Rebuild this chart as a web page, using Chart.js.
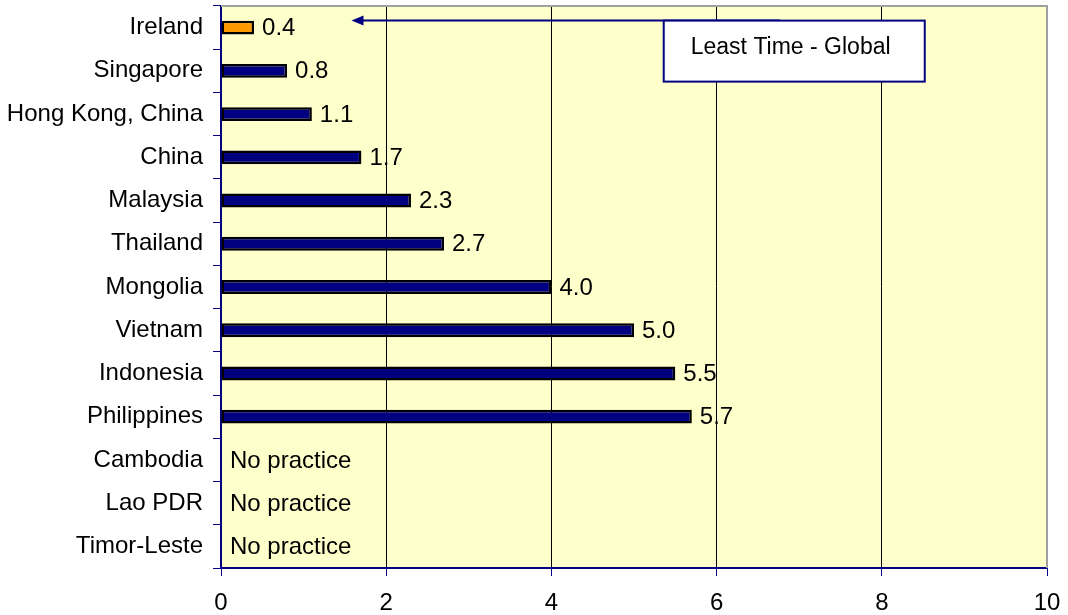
<!DOCTYPE html>
<html>
<head>
<meta charset="utf-8">
<script src="https://cdn.jsdelivr.net/npm/chart.js@4/dist/chart.umd.min.js"></script>
<style>
  html, body { margin: 0; padding: 0; background: #ffffff; }
  #wrap { width: 1068px; height: 615px; }
</style>
</head>
<body>
<div id="wrap"><canvas id="chart"></canvas></div>
<script>
// data
const countries = ["Ireland", "Singapore", "Hong Kong, China", "China", "Malaysia", "Thailand",
  "Mongolia", "Vietnam", "Indonesia", "Philippines", "Cambodia", "Lao PDR", "Timor-Leste"];
const years = [0.4, 0.8, 1.1, 1.7, 2.3, 2.7, 4.0, 5.0, 5.5, 5.7, null, null, null];
const xTicks = [0, 2, 4, 6, 8, 10];
const noPracticeText = "No practice";
const calloutText = "Least Time - Global";
// arrow in data units (from the callout toward Ireland)
const arrowFrom = 6.77;
const arrowTo = 1.58;

const FONT = "'Liberation Sans', Arial, Helvetica, sans-serif";
const NAVY = "#000080";

// labels, plot frame, arrow and callout box
const extras = {
  id: "extras",
  beforeDatasetsDraw(chart) {
    const { ctx, chartArea: a } = chart;
    ctx.save();
    ctx.strokeStyle = "#a0a0a0";
    ctx.lineWidth = 2;
    ctx.beginPath();
    ctx.moveTo(a.left, a.top);
    ctx.lineTo(a.right, a.top);
    ctx.lineTo(a.right, a.bottom);
    ctx.stroke();
    ctx.restore();
  },
  afterDatasetsDraw(chart) {
    const { ctx, scales: { x, y } } = chart;
    const meta = chart.getDatasetMeta(0);
    ctx.save();
    ctx.font = "24px " + FONT;
    ctx.fillStyle = "#000";
    ctx.textBaseline = "middle";
    ctx.textAlign = "left";
    years.forEach((v, i) => {
      const yy = y.getPixelForValue(i) + 1;
      if (v == null) {
        ctx.fillText(noPracticeText, x.getPixelForValue(0) + 9, yy);
      } else {
        const bar = meta.data[i];
        ctx.fillText(v.toFixed(1), bar.x + 8, yy);
      }
    });

    // arrow
    const ay = y.getPixelForValue(0) - 7;
    const x1 = x.getPixelForValue(arrowFrom);
    const x2 = x.getPixelForValue(arrowTo);
    ctx.strokeStyle = NAVY;
    ctx.fillStyle = NAVY;
    ctx.lineWidth = 2;
    ctx.beginPath();
    ctx.moveTo(x1, ay);
    ctx.lineTo(x2 + 10, ay);
    ctx.stroke();
    ctx.beginPath();
    ctx.moveTo(x2, ay);
    ctx.lineTo(x2 + 12, ay - 5);
    ctx.lineTo(x2 + 12, ay + 5);
    ctx.closePath();
    ctx.fill();

    // callout box
    const bx = x.getPixelForValue(5.36);
    const bw = x.getPixelForValue(8.52) - bx;
    const by = y.getPixelForValue(0) - 7;
    const bh = 61;
    ctx.fillStyle = "#ffffff";
    ctx.fillRect(bx, by, bw, bh);
    ctx.strokeStyle = NAVY;
    ctx.lineWidth = 2;
    ctx.strokeRect(bx, by, bw, bh);
    ctx.fillStyle = "#000";
    ctx.font = "23px " + FONT;
    ctx.fillText(calloutText, bx + 27, by + 27);
    ctx.restore();
  }
};

const plotBg = {
  id: "plotBg",
  beforeDraw(chart) {
    const { ctx, chartArea: a } = chart;
    ctx.save();
    ctx.fillStyle = "#ffffcc";
    ctx.fillRect(a.left, a.top, a.right - a.left, a.bottom - a.top);
    ctx.restore();
  }
};

const chart_config = {
  type: "bar",
  data: {
    labels: countries,
    datasets: [
      {
        data: years,
        backgroundColor: countries.map((c, i) => (i === 0 ? "#ff9900" : NAVY)),
        borderColor: "#000000",
        borderWidth: 2.5,
        borderSkipped: false,
        categoryPercentage: 1,
        barPercentage: 0.32,
      },
    ],
  },
  options: {
    indexAxis: "y",
    responsive: true,
    maintainAspectRatio: false,
    animation: false,
    layout: { padding: { top: 6, right: 21, left: 0, bottom: 0 } },
    scales: {
      x: {
        min: 0,
        max: 10,
        afterBuildTicks(scale) {
          scale.ticks = xTicks.map((v) => ({ value: v }));
        },
        afterFit(scale) {
          scale.height = 47;
          scale.paddingLeft = 0;
          scale.paddingRight = 0;
        },
        border: { color: NAVY, width: 2 },
        grid: {
          color: (c) => (c.tick && c.tick.value === 10 ? "#a0a0a0" : "#000000"),
          lineWidth: 1,
          tickColor: NAVY,
          tickLength: 8,
        },
        ticks: {
          color: "#000",
          padding: 13,
          font: { family: FONT, size: 24 },
        },
      },
      y: {
        afterFit(scale) {
          scale.width = 221;
          scale.paddingTop = 0;
          scale.paddingBottom = 0;
        },
        border: { color: NAVY, width: 2 },
        grid: {
          offset: true,
          drawOnChartArea: false,
          color: NAVY,
          tickLength: 8,
        },
        ticks: {
          color: "#000",
          padding: 10,
          font: { family: FONT, size: 24 },
        },
      },
    },
    plugins: {
      legend: { display: false },
      tooltip: { enabled: false },
    },
  },
  plugins: [plotBg, extras],
};

const ctx = document.getElementById("chart").getContext("2d");
const myChart = new Chart(ctx, chart_config);
</script>
</body>
</html>
